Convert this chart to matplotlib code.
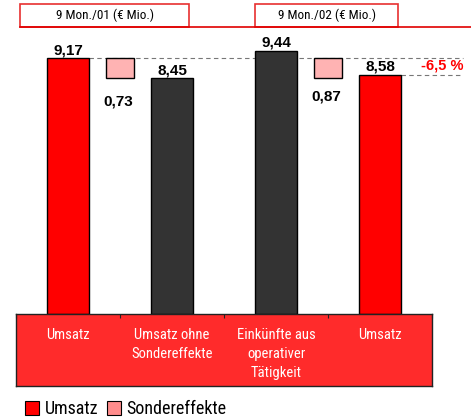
import matplotlib
matplotlib.use("Agg")
import matplotlib.pyplot as plt
from matplotlib.patches import Patch, Rectangle
from matplotlib import font_manager

# ---- data ----
categories = ["Umsatz", "Umsatz ohne\nSondereffekte", "Einkünfte aus\noperativer\nTätigkeit", "Umsatz"]
bar_values = [9.17, 8.45, 9.44, 8.58]
bar_labels = ["9,17", "8,45", "9,44", "8,58"]
bar_kinds = ["umsatz", "dark", "dark", "umsatz"]
sonder_pos = [0.5, 2.5]
sonder_bottom = [8.45, 8.45]
sonder_top = [9.17, 9.17]
sonder_labels = ["0,73", "0,87"]
headers = ["9 Mon./01 (€ Mio.)", "9 Mon./02 (€ Mio.)"]
change_label = "-6,5 %"
legend_labels = ["Umsatz", "Sondereffekte"]

names = {f.name for f in font_manager.fontManager.ttflist}
narrow = "Roboto"
condensed = False
for cand in ["Liberation Sans Narrow", "Roboto Condensed", "Open Sans Condensed",
             "DejaVu Sans Condensed"]:
    if cand in names:
        narrow = cand
        condensed = True
        break
plt.rcParams["font.family"] = ["Liberation Sans", "DejaVu Sans"]

W, H = 471, 420
fig = plt.figure(figsize=(W / 100, H / 100), dpi=100)

def fx(px):
    return px / W

def fy(py):
    return 1 - py / H

colors = {"umsatz": "#ff0000", "dark": "#333333"}
pink = "#ffb3b3"

# main axes: y=0 at px 314, 27.9 px per unit
ppu = 27.9
ymax = 11.0
top_px = 314 - ymax * ppu
ax = fig.add_axes([fx(16), fy(314), fx(432) - fx(16), (314 - top_px) / H])
ax.set_xlim(-0.5, 3.5)
ax.set_ylim(0, ymax)
ax.axis("off")

x = list(range(len(bar_values)))
ax.bar(x, bar_values, width=0.4, color=[colors[k] for k in bar_kinds],
       edgecolor="black", linewidth=1.0, zorder=3)
for xi, v, lab in zip(x, bar_values, bar_labels):
    ax.text(xi, v + 0.04, lab, ha="center", va="bottom", fontsize=11,
            fontweight="bold", color="black", zorder=4)

heights = [t - b for b, t in zip(sonder_bottom, sonder_top)]
ax.bar(sonder_pos, heights, bottom=sonder_bottom, width=0.26, color=pink,
       edgecolor="black", linewidth=1.0, zorder=3)
for xp, b, lab, off in zip(sonder_pos, sonder_bottom, sonder_labels, [0.85, 0.67]):
    ax.text(xp - 0.02, b - off, lab, ha="center", va="center", fontsize=11,
            fontweight="bold", color="black", zorder=4)

# dashed reference lines
ax.plot([0.2, 3.8], [bar_values[0], bar_values[0]], ls=(0, (4, 3)), color="#777777",
        lw=0.8, clip_on=False, zorder=2)
ax.plot([3.2, 3.8], [bar_values[3], bar_values[3]], ls=(0, (4, 3)), color="#777777",
        lw=0.8, clip_on=False, zorder=2)
ax.text(3.6, bar_values[3] + 0.07, change_label, ha="center", va="bottom",
        fontsize=10.5, fontweight="bold", color="#ff0000", clip_on=False)

cat_size = 10.5 if condensed else 9.5
# category strip
cax = fig.add_axes([fx(16), fy(386), fx(432) - fx(16), (386 - 314) / H])
cax.set_facecolor("#ff2b2b")
cax.set_xlim(-0.5, 3.5)
cax.set_ylim(0, 1)
for s in cax.spines.values():
    s.set_color("#222222")
    s.set_linewidth(1.0)
cax.set_yticks([])
cax.set_xticks([-0.5, 0.5, 1.5, 2.5, 3.5])
cax.tick_params(axis="x", top=True, bottom=False, labeltop=False, labelbottom=False,
                direction="in", length=3, color="#222222")
for xi, c in zip(x, categories):
    cax.text(xi, 0.80, c, ha="center", va="top", fontsize=cat_size, color="white",
             family=[narrow, "DejaVu Sans"], linespacing=1.45)

# header
fig.add_artist(plt.Line2D([fx(20), fx(471)], [fy(26.5), fy(26.5)], color="#e00000", lw=1.2))
for (l, r), t in zip([(20, 189), (255, 398)], headers):
    fig.add_artist(Rectangle((fx(l), fy(27)), fx(r) - fx(l), fy(4) - fy(27),
                             facecolor="white", edgecolor="#e83030", lw=1.2,
                             transform=fig.transFigure))
    fig.text(fx((l + r) / 2), fy(15.5), t, ha="center", va="center", fontsize=9.5,
             family=[narrow, "DejaVu Sans"], color="black")

# legend
handles = [Patch(facecolor="#ff0000", edgecolor="black", lw=0.8),
           Patch(facecolor="#ff8c8c", edgecolor="black", lw=0.8)]
fig.legend(handles, legend_labels, loc="center left", bbox_to_anchor=(fx(16), fy(409)),
           ncol=2, frameon=False, handlelength=0.8, handleheight=0.8,
           handletextpad=0.3, columnspacing=0.45, borderpad=0,
           prop={"family": [narrow, "DejaVu Sans"], "size": 13})

fig.savefig("out.png", dpi=100)
